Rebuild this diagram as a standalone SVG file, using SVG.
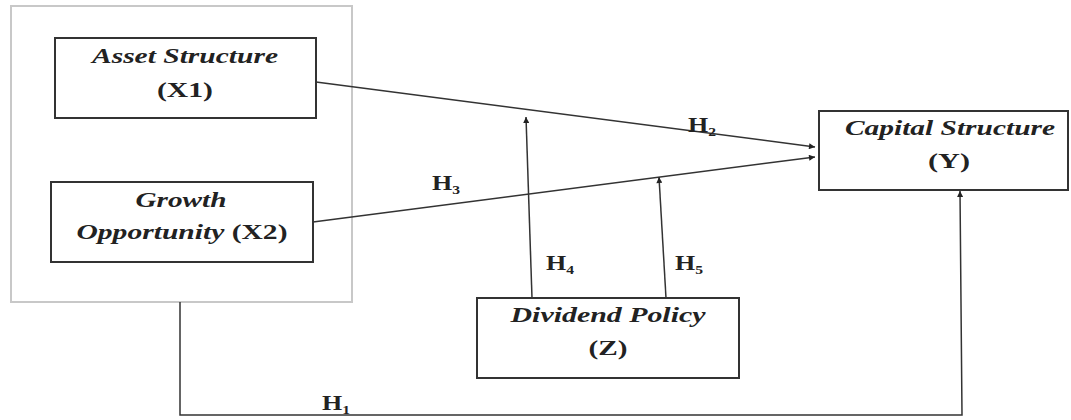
<svg xmlns="http://www.w3.org/2000/svg" width="1071" height="420" viewBox="0 0 1071 420">
<style>
.box{fill:#fff;stroke:#333;stroke-width:2}
.outer{fill:#fff;stroke:#c8c8c8;stroke-width:2}
.t{font-family:"Liberation Serif","Times New Roman",serif;font-size:22px;font-weight:bold;fill:#222;text-anchor:middle}
.i{font-style:italic}
.h{font-family:"Liberation Serif","Times New Roman",serif;font-size:20px;font-weight:bold;fill:#222}
.h tspan{font-size:12px}
.c{fill:none;stroke:#333;stroke-width:1.5}
</style>
<defs>
<marker id="ah" viewBox="0 0 10 10" refX="10" refY="5" markerWidth="9" markerHeight="6" orient="auto" markerUnits="userSpaceOnUse">
<path d="M0,0 L10,5 L0,10 z" fill="#222"/>
</marker>
</defs>
<g id="independents">
<rect class="outer" x="11" y="6" width="341" height="296"/>
</g>
<g id="connectors">
<line class="c" x1="316" y1="82" x2="815" y2="147" marker-end="url(#ah)"/>
<line class="c" x1="313" y1="222" x2="815" y2="157" marker-end="url(#ah)"/>
<line class="c" x1="532" y1="298" x2="526" y2="117" marker-end="url(#ah)"/>
<line class="c" x1="666" y1="298" x2="659" y2="177" marker-end="url(#ah)"/>
<polyline class="c" points="180,302 180,415 962,415 960,191" marker-end="url(#ah)"/>
</g>
<g id="labels">
<text class="h" x="688" y="132" textLength="28" lengthAdjust="spacingAndGlyphs">H<tspan dy="4">2</tspan></text>
<text class="h" x="432" y="190" textLength="28" lengthAdjust="spacingAndGlyphs">H<tspan dy="4">3</tspan></text>
<text class="h" x="546" y="270" textLength="28" lengthAdjust="spacingAndGlyphs">H<tspan dy="4">4</tspan></text>
<text class="h" x="675" y="270" textLength="28" lengthAdjust="spacingAndGlyphs">H<tspan dy="4">5</tspan></text>
<text class="h" x="322" y="410" textLength="28" lengthAdjust="spacingAndGlyphs">H<tspan dy="4">1</tspan></text>
</g>
<g id="asset">
<rect class="box" x="55" y="38" width="261" height="80"/>
<text class="t i" x="185" y="63" textLength="186" lengthAdjust="spacingAndGlyphs">Asset Structure</text>
<text class="t" x="185" y="97" textLength="56" lengthAdjust="spacingAndGlyphs">(X1)</text>
</g>
<g id="growth">
<rect class="box" x="51" y="182" width="262" height="80"/>
<text class="t i" x="181" y="207" textLength="91" lengthAdjust="spacingAndGlyphs">Growth</text>
<text class="t" x="182" y="239" textLength="211" lengthAdjust="spacingAndGlyphs"><tspan class="i">Opportunity</tspan> (X2)</text>
</g>
<g id="capital">
<rect class="box" x="819" y="111" width="249" height="79"/>
<text class="t i" x="950" y="135" textLength="210" lengthAdjust="spacingAndGlyphs">Capital Structure</text>
<text class="t" x="949" y="168" textLength="42" lengthAdjust="spacingAndGlyphs">(Y)</text>
</g>
<g id="dividend">
<rect class="box" x="477" y="298" width="262" height="80"/>
<text class="t i" x="608" y="322" textLength="195" lengthAdjust="spacingAndGlyphs">Dividend Policy</text>
<text class="t" x="608" y="355" textLength="39" lengthAdjust="spacingAndGlyphs">(Z)</text>
</g>
</svg>
